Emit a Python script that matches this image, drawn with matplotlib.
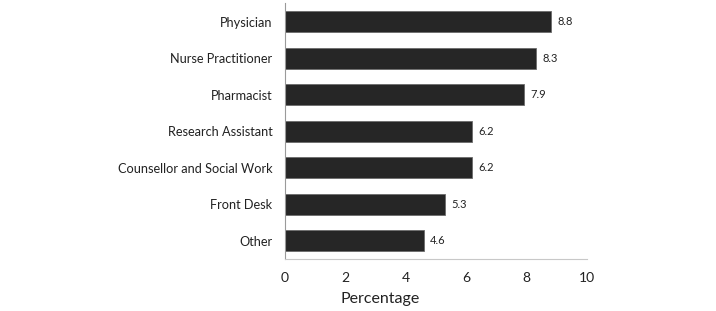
import matplotlib
matplotlib.use("Agg")
import matplotlib.pyplot as plt

categories = ["Physician", "Nurse Practitioner", "Pharmacist", "Research Assistant",
              "Counsellor and Social Work", "Front Desk", "Other"]
values = [8.8, 8.3, 7.9, 6.2, 6.2, 5.3, 4.6]
xticks = [0, 2, 4, 6, 8, 10]

plt.rcParams['font.family'] = ['Lato', 'DejaVu Sans']

fig = plt.figure(figsize=(7.16, 3.11), dpi=100)
ax = fig.add_axes([0.398, 0.167, 0.422, 0.822])

pos = list(range(len(categories)))
ax.barh(pos, values, height=0.57, color='#262626', edgecolor='#6b6b6b', linewidth=0.6)
for p, v in zip(pos, values):
    ax.annotate(str(v), xy=(v, p), xytext=(4.5, 0), textcoords='offset points',
                va='center', ha='left', fontsize=8, color='#222222')

ax.set_yticks(pos)
ax.set_yticklabels(categories, fontsize=9.2)
ax.set_ylim(len(categories) - 0.5, -0.5)
ax.set_xlim(0, 10)
ax.set_xticks(xticks)
ax.set_xticklabels([str(t) for t in xticks], fontsize=10)
ax.tick_params(axis='both', length=0, colors='#222222')
ax.tick_params(axis='x', pad=9)
ax.tick_params(axis='y', pad=9)
ax.set_xlabel("Percentage", fontsize=11.5, labelpad=2, color='#222222')
ax.xaxis.set_label_coords(0.315, -0.13)

for s in ['top', 'right']:
    ax.spines[s].set_visible(False)
ax.spines['left'].set_color('#9a9a9a')
ax.spines['bottom'].set_color('#c8c8c8')

fig.savefig('out.png', dpi=100)
